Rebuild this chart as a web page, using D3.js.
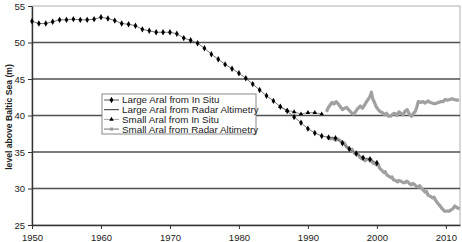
<!DOCTYPE html>
<html>
<head>
  <script src="https://cdn.jsdelivr.net/npm/d3@7/dist/d3.min.js"></script>
  <style>
    body { margin: 0; background: #fff; }
    text { font-family: "Liberation Sans", Arial, sans-serif; }
  </style>
</head>
<body>
  <svg width="462" height="242" id="mainsvg"></svg>
  <script>
      // data
      const xTicks = [1950, 1960, 1970, 1980, 1990, 2000, 2010];
      const yTicks = [25, 30, 35, 40, 45, 50, 55];
      const gridValues = [30, 35, 40, 45, 50];

      const largeInSituYears = d3.range(1950, 2001);
      const largeInSituLevels = [52.9, 52.6, 52.6, 52.85, 53.1, 53.1, 53.2, 53.1, 53.1, 53.2,
                                 53.45, 53.3, 53.0, 52.6, 52.5, 52.3, 51.8, 51.6, 51.4, 51.4,
                                 51.4, 51.2, 50.6, 50.3, 49.9, 49.2, 48.4, 47.7, 47.0, 46.4,
                                 45.8, 45.1, 44.3, 43.5, 42.7, 42.0, 41.2, 40.6, 39.8, 39.0,
                                 38.2, 37.6, 37.2, 37.0, 36.9, 36.2, 35.4, 34.8, 34.2, 34.0,
                                 33.5];

      const smallInSituYears = [1986, 1987, 1988, 1989, 1990, 1991, 1992];
      const smallInSituLevels = [41.2, 40.7, 40.5, 40.2, 40.4, 40.4, 40.2];

      const largeRadar = [[1992.7,36.9],[1993.0,37.0],[1993.3,36.8],[1993.6,36.9],[1994.0,36.6],[1994.3,36.8],
        [1994.7,36.5],[1995.0,36.4],[1995.3,36.2],[1995.6,35.7],[1995.9,35.5],[1996.2,35.3],[1996.4,35.4],
        [1996.6,35.0],[1996.8,34.8],[1997.1,34.6],[1997.3,34.7],[1997.5,34.3],[1997.8,34.1],[1998.1,34.0],
        [1998.3,33.8],[1998.5,34.0],[1998.7,34.0],[1999.0,33.8],[1999.2,33.9],[1999.4,33.5],[1999.7,33.4],
        [2000.0,33.2],[2000.2,33.3],[2000.4,32.8],[2000.7,32.5],[2001.0,32.2],[2001.2,32.3],[2001.4,31.9],
        [2001.7,31.7],[2002.0,31.5],[2002.2,31.6],[2002.4,31.2],[2002.7,31.1],[2003.0,30.9],[2003.2,31.1],
        [2003.5,31.0],[2003.8,30.8],[2004.1,30.8],[2004.3,31.0],[2004.5,30.9],[2004.8,30.6],[2005.0,30.5],
        [2005.2,30.7],[2005.4,30.6],[2005.7,30.3],[2006.0,30.2],[2006.2,30.4],[2006.4,30.1],[2006.7,29.8],
        [2007.0,29.5],[2007.2,29.6],[2007.4,29.1],[2007.8,28.9],[2008.1,28.7],[2008.3,28.8],[2008.5,28.4],
        [2008.8,28.0],[2009.1,27.7],[2009.4,27.3],[2009.8,26.9],[2010.1,26.9],[2010.5,26.9],[2010.8,27.1],
        [2011.0,27.2],[2011.3,27.6],[2011.6,27.4],[2012.0,27.2]];

      const smallRadar = [[1992.7,40.5],[1992.9,41.0],[1993.2,41.4],[1993.5,41.8],[1993.8,41.6],[1994.1,41.9],
        [1994.4,41.6],[1994.7,41.2],[1995.0,40.8],[1995.3,41.0],[1995.6,41.1],[1995.9,40.8],[1996.1,40.6],
        [1996.4,40.3],[1996.6,40.2],[1996.9,40.5],[1997.1,40.8],[1997.4,41.1],[1997.6,41.3],[1997.9,41.0],
        [1998.2,41.4],[1998.5,41.9],[1998.8,42.3],[1999.0,42.6],[1999.2,43.2],[1999.4,42.3],[1999.6,41.9],
        [1999.9,41.2],[2000.2,40.8],[2000.5,40.5],[2000.8,40.4],[2001.1,40.1],[2001.4,40.3],[2001.7,39.9],
        [2002.0,39.9],[2002.3,40.2],[2002.6,40.3],[2002.9,40.0],[2003.2,40.5],[2003.5,40.3],[2003.8,40.1],
        [2004.1,40.6],[2004.4,40.8],[2004.7,40.2],[2005.0,39.9],[2005.3,40.3],[2005.6,40.6],[2005.8,41.2],
        [2006.0,41.9],[2006.3,41.8],[2006.7,41.9],[2007.0,41.7],[2007.4,42.0],[2007.7,41.8],[2008.0,41.7],
        [2008.3,41.6],[2008.7,41.7],[2009.0,41.8],[2009.3,41.9],[2009.6,41.9],[2009.9,42.2],[2010.2,42.1],
        [2010.6,42.2],[2010.9,42.3],[2011.2,42.2],[2011.6,42.1],[2011.9,42.1]];

      const legendLabels = ['Large Aral from In Situ', 'Large Aral from Radar Altimetry',
                            'Small Aral from In Situ', 'Small Aral from Radar Altimetry'];

      const svg = d3.select('#mainsvg');
      const xScale = d3.scaleLinear().domain([1950, 2012.05]).range([32, 460]);
      const yScale = d3.scaleLinear().domain([25, 55]).range([225, 6]);

      // frame and grid
      svg.append('rect').attr('x', 32).attr('y', 6).attr('width', 428).attr('height', 219)
        .attr('fill', 'none').attr('stroke', '#b0b0b0').attr('stroke-width', 1);
      svg.selectAll('.grid').data(gridValues).join('line').attr('class', 'grid')
        .attr('x1', 32).attr('x2', 460)
        .attr('y1', d => yScale(d)).attr('y2', d => yScale(d))
        .attr('stroke', '#505050').attr('stroke-width', 1.6);

      // axes
      const xAxis = d3.axisBottom(xScale).tickValues(xTicks).tickSize(4).tickSizeOuter(0).tickFormat(d => d);
      const yAxis = d3.axisLeft(yScale).tickValues(yTicks).tickSize(4).tickSizeOuter(0);
      const xg = svg.append('g').attr('transform', 'translate(0,225)').call(xAxis);
      const yg = svg.append('g').attr('transform', 'translate(32,0)').call(yAxis);
      [xg, yg].forEach(g => {
        g.select('.domain').attr('stroke', '#333').attr('stroke-width', 1.4);
        g.selectAll('.tick line').attr('stroke', '#333');
        g.selectAll('.tick text').attr('font-size', 9.5).attr('fill', '#222')
          .attr('font-family', '"Liberation Sans", Arial, sans-serif');
      });
      xg.selectAll('.tick text').attr('dy', '0.9em');

      svg.append('text').text('level above Baltic Sea (m)')
        .attr('transform', 'translate(12,117) rotate(-90)')
        .attr('text-anchor', 'middle').attr('font-size', 8.6).attr('font-weight', 'bold').attr('fill', '#222');

      // series
      const line = d3.line().x(d => xScale(d[0])).y(d => yScale(d[1]));
      const largeInSitu = largeInSituYears.map((y, i) => [y, largeInSituLevels[i]]);
      const smallInSitu = smallInSituYears.map((y, i) => [y, smallInSituLevels[i]]);

      svg.append('path').datum(largeRadar).attr('d', line).attr('fill', 'none')
        .attr('stroke', '#a0a0a0').attr('stroke-width', 3.2).attr('stroke-linejoin', 'round');
      svg.append('path').datum(smallRadar).attr('d', line).attr('fill', 'none')
        .attr('stroke', '#a0a0a0').attr('stroke-width', 3.2).attr('stroke-linejoin', 'round');

      svg.append('path').datum(largeInSitu).attr('d', line).attr('fill', 'none')
        .attr('stroke', '#555').attr('stroke-width', 0.8);
      svg.append('path').datum(smallInSitu).attr('d', line).attr('fill', 'none')
        .attr('stroke', '#777').attr('stroke-width', 0.8);

      const diamond = d3.symbol(d3.symbolDiamond, 12);
      const triangle = d3.symbol(d3.symbolTriangle, 9);
      svg.selectAll('.lpt').data(largeInSitu).join('path').attr('class', 'lpt')
        .attr('d', diamond).attr('transform', d => `translate(${xScale(d[0])},${yScale(d[1])})`)
        .attr('fill', '#000');
      svg.selectAll('.spt').data(smallInSitu).join('path').attr('class', 'spt')
        .attr('d', triangle).attr('transform', d => `translate(${xScale(d[0])},${yScale(d[1])})`)
        .attr('fill', '#000');

      // legend
      const legend = svg.append('g').attr('transform', 'translate(102,94)');
      legend.append('rect').attr('width', 154).attr('height', 40)
        .attr('fill', '#fff').attr('stroke', '#888').attr('stroke-width', 1);
      const rows = legend.selectAll('.row').data(legendLabels).join('g').attr('class', 'row')
        .attr('transform', (d, i) => `translate(0,${6 + i * 9.7})`);
      const lineColors = ['#444', '#333', '#999', '#999'];
      const lineWidths = [0.9, 1, 0.9, 1.4];
      rows.append('line').attr('x1', 2).attr('x2', 17).attr('y1', 0).attr('y2', 0)
        .attr('stroke', (d, i) => lineColors[i]).attr('stroke-width', (d, i) => lineWidths[i]);
      rows.filter((d, i) => i === 0).append('path').attr('d', diamond).attr('transform', 'translate(9.5,0)').attr('fill', '#000');
      rows.filter((d, i) => i === 2).append('path').attr('d', triangle).attr('transform', 'translate(9.5,0)').attr('fill', '#000');
      rows.filter((d, i) => i === 3).append('rect').attr('x', 8).attr('y', -1.5).attr('width', 3).attr('height', 3).attr('fill', '#999');
      rows.append('text').text(d => d).attr('x', 20).attr('y', 0).attr('dy', '0.35em')
        .attr('font-size', 9.8).attr('fill', '#222');
  </script>
</body>
</html>
